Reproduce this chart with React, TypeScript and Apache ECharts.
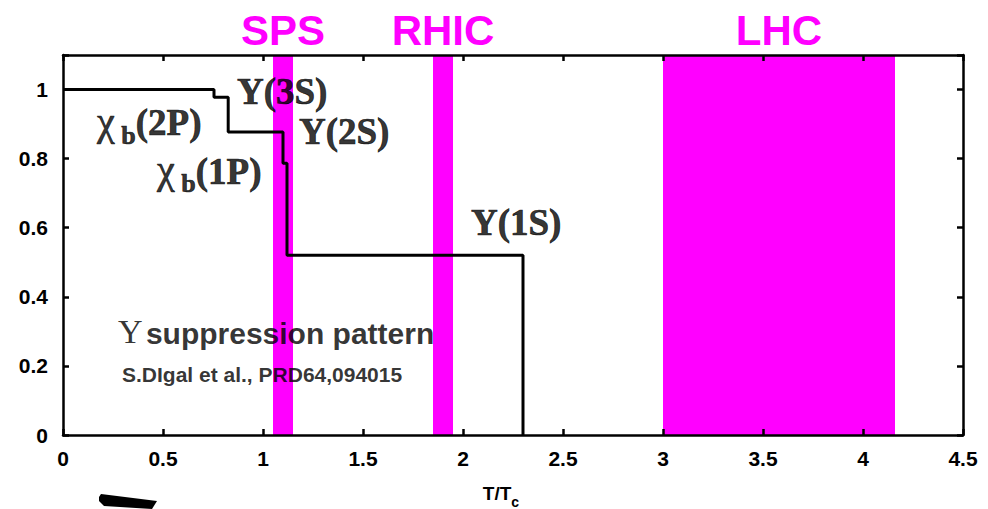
import React, { useEffect, useRef } from "react";
import * as echarts from "echarts";

// Step curve: survival probability vs T/Tc
const stepX = [0, 0.755, 0.826, 1.1, 1.12, 2.3];
const stepY = [1, 0.978, 0.877, 0.787, 0.52, 0];

// Accelerator temperature bands
const bandNames = ["SPS", "RHIC", "LHC"];
const bandStart = [1.05, 1.85, 3.0];
const bandEnd = [1.15, 1.95, 4.16];

// Annotations (data coordinates of left edge / vertical centre)
const annText = [
  "{u|Υ(3S)}",
  "{c|χ}{s| b}{u|(2P)}",
  "{u|Υ(2S)}",
  "{c|χ}{s| b}{u|(1P)}",
  "{u|Υ(1S)}",
  "{g|Υ} {h|suppression pattern}",
  "{r|S.DIgal et al., PRD64,094015}",
];
const annX = [0.87, 0.17, 1.18, 0.47, 2.04, 0.275, 0.295];
const annY = [0.975, 0.885, 0.86, 0.745, 0.595, 0.3, 0.175];

const xMin = 0, xMax = 4.5, xStep = 0.5;
const yMin = 0, yMax = 1.1, yStep = 0.2;

const SANS = "Liberation Sans";
const SERIF = "Liberation Serif";
const MAGENTA = "#ff00ff";

export default function App() {
  const ref = useRef<HTMLDivElement>(null);
  useEffect(() => {
    document.body.style.margin = "0";
    const chart = echarts.init(ref.current!, null, { renderer: "svg" });
    const axisLine = { show: true, onZero: false, lineStyle: { color: "#000", width: 2.5 } };
    const tick = { show: true, inside: true, length: 6, lineStyle: { color: "#000", width: 2.5 } };
    const labelStyle = { color: "#000", fontFamily: SANS, fontWeight: "bold" as const, fontSize: 21 };
    const ink = { color: "#000", textBorderColor: "#000", textBorderWidth: 0.7 };
    const yFmt = (v: number) =>
      Math.abs(v / yStep - Math.round(v / yStep)) < 1e-6 ? String(Math.round(v * 10) / 10) : "";
    chart.setOption({
      animation: false,
      backgroundColor: "#fff",
      grid: { left: 63, right: 25, top: 55, bottom: 74, containLabel: false, outerBoundsMode: "none" },
      xAxis: [
        {
          type: "value", min: xMin, max: xMax, interval: xStep, position: "bottom", z: 5,
          axisLine, axisTick: tick, splitLine: { show: false },
          axisLabel: { ...labelStyle, margin: 13 },
          name: "{a|T/T}{b|c}", nameLocation: "middle", nameGap: 54,
          nameTextStyle: {
            padding: [0, 24, 0, 0],
            rich: {
              a: { fontFamily: SANS, fontWeight: "bold", fontSize: 19, color: "#000", verticalAlign: "bottom", lineHeight: 20, padding: [0, 0, 6, 0] },
              b: { fontFamily: SANS, fontWeight: "bold", fontSize: 14, color: "#000", verticalAlign: "bottom", lineHeight: 14 },
            },
          },
        },
        {
          type: "value", min: xMin, max: xMax, interval: xStep, position: "top", z: 5,
          axisLine, axisTick: tick, splitLine: { show: false }, axisLabel: { show: false },
        },
      ],
      yAxis: [
        {
          type: "value", min: yMin, max: yMax, interval: yStep, position: "left", z: 5,
          axisLine, axisTick: tick, splitLine: { show: false },
          axisLabel: { ...labelStyle, margin: 15, formatter: yFmt },
        },
        {
          type: "value", min: yMin, max: yMax, interval: yStep, position: "right", z: 5,
          axisLine, axisTick: tick, splitLine: { show: false }, axisLabel: { show: false },
        },
      ],
      series: [
        {
          type: "line", data: [], z: 1, silent: true,
          markArea: {
            silent: true,
            itemStyle: { color: MAGENTA, opacity: 1 },
            label: {
              show: true, position: "top", distance: 4, color: MAGENTA,
              fontFamily: SANS, fontWeight: "bold", fontSize: 42,
            },
            data: bandNames.map((n, i) => [
              { name: n, xAxis: bandStart[i] },
              { xAxis: bandEnd[i] },
            ]),
          },
        },
        {
          type: "line", step: "end", z: 3, silent: true, symbol: "none",
          lineStyle: { color: "#000", width: 3 },
          data: stepX.map((x, i) => [x, stepY[i]]),
        },
        {
          type: "scatter", z: 4, silent: true, symbolSize: 0,
          itemStyle: { color: "transparent" },
          label: {
            show: true, position: "right", distance: 0, color: "#000",
            rich: {
              u: { ...ink, fontFamily: SERIF, fontWeight: "bold", fontSize: 37, verticalAlign: "bottom", lineHeight: 38, padding: [0, 0, 7, 0] },
              c: { ...ink, fontFamily: SERIF, fontSize: 40, verticalAlign: "bottom", lineHeight: 38, padding: [0, 0, 7, 0] },
              s: { ...ink, fontFamily: SERIF, fontWeight: "bold", fontSize: 26, verticalAlign: "bottom", lineHeight: 26 },
              g: { color: "#000", fontFamily: SERIF, fontSize: 34, verticalAlign: "bottom", lineHeight: 34 },
              h: { color: "#000", fontFamily: SANS, fontWeight: "bold", fontSize: 30, verticalAlign: "bottom", lineHeight: 31 },
              r: { color: "#000", fontFamily: SANS, fontWeight: "bold", fontSize: 21 },
            },
          },
          data: annX.map((x, i) => ({ value: [x, annY[i]], label: { formatter: annText[i] } })),
        },
      ],
      graphic: [
        {
          type: "polygon",
          shape: { points: [[101, 494], [157, 501], [152, 509], [104, 506], [99, 501], [99, 497]] },
          style: { fill: "#000" },
        },
      ],
    });
    return () => chart.dispose();
  }, []);
  return <div ref={ref} style={{ width: 988, height: 509 }} />;
}
